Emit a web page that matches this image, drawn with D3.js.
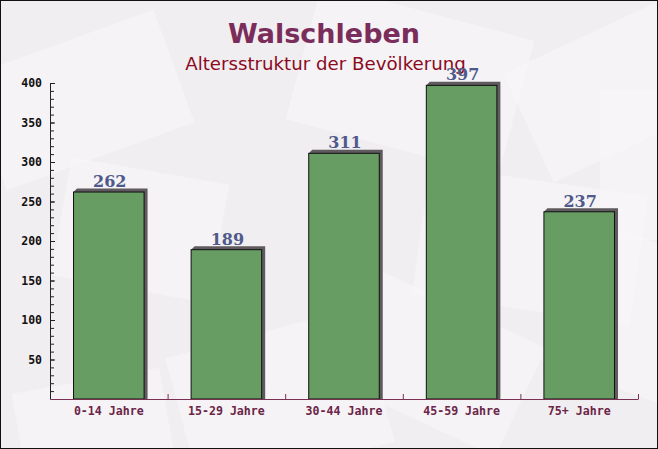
<!DOCTYPE html>
<html><head><meta charset="utf-8">
<script src="https://cdn.jsdelivr.net/npm/d3@7"></script>
<style>html,body{margin:0;padding:0;background:#fff;}svg{display:block;}</style>
</head><body>
<script>
const categories = ["0-14 Jahre","15-29 Jahre","30-44 Jahre","45-59 Jahre","75+ Jahre"];
const values = [262,189,311,397,237];
const yTicks = [50,100,150,200,250,300,350,400];
const title = "Walschleben";
const subtitle = "Altersstruktur der Bevölkerung";

const W=658,H=449;
const svg=d3.select("body").append("svg").attr("width",W).attr("height",H);
svg.append("rect").attr("x",0).attr("y",0).attr("width",W).attr("height",H).attr("fill","#f1eef1");

// decorative background envelopes
const deco=[[-20,40,200,120,-20],[300,10,220,140,15],[520,30,180,120,-25],[60,170,160,120,10],[420,180,220,130,8],[180,330,200,140,-15],[560,240,150,150,20],[20,380,150,110,-10],[330,300,200,120,25],[600,90,80,150,0]];
const dg=svg.append("g");
deco.forEach(d=>{
  dg.append("rect").attr("x",d[0]).attr("y",d[1]).attr("width",d[2]).attr("height",d[3])
    .attr("fill","#fbf9fa").attr("opacity",0.45)
    .attr("transform",`rotate(${d[4]},${d[0]+d[2]/2},${d[1]+d[3]/2})`);
});

const x=d3.scaleBand().domain(categories).range([50,638]).paddingInner(0.4).paddingOuter(0.2);
const y=d3.scaleLinear().domain([0,400]).range([399,83]);
const xb=d3.scaleLinear().domain([0,categories.length]).range([50,638]);

// title
svg.append("text").attr("x",324).attr("y",43).attr("text-anchor","middle")
  .attr("font-family","DejaVu Sans").attr("font-weight","bold").attr("font-size",27)
  .attr("fill","#7a2d5a").text(title);
svg.append("text").attr("x",325.5).attr("y",70).attr("text-anchor","middle")
  .attr("font-family","DejaVu Sans").attr("font-size",18.2)
  .attr("fill","#8b0a1e").text(subtitle);

// bars
const bars=svg.append("g");
categories.forEach((c,i)=>{
  const x0=x(c), x1=x(c)+x.bandwidth(), yt=y(values[i]), yb=y(0), o=3.5;
  bars.append("polygon")
    .attr("points",`${x0},${yt} ${x0+o},${yt-o} ${x1+o},${yt-o} ${x1+o},${yb} ${x1},${yb}`)
    .attr("fill","#5e5a5e");
  bars.append("rect").attr("x",x0).attr("y",yt).attr("width",x.bandwidth()).attr("height",yb-yt)
    .attr("fill","#679d63").attr("stroke","#111").attr("stroke-width",1);
  bars.append("text").attr("x",x0+x.bandwidth()/2+1).attr("y",yt-5).attr("text-anchor","middle")
    .attr("font-family","DejaVu Serif").attr("font-weight","bold").attr("font-size",16)
    .attr("fill","#505a8a").text(values[i]);
});

// y axis
const minor=svg.append("g").attr("transform","translate(50,0)")
  .call(d3.axisLeft(y).tickValues(d3.range(10,400,10)).tickSizeInner(-4).tickSizeOuter(0).tickFormat(""));
minor.select(".domain").remove();
minor.selectAll("line").attr("stroke","#222");
const ya=svg.append("g").attr("transform","translate(50,0)")
  .call(d3.axisLeft(y).tickValues(yTicks).tickSizeInner(-5).tickSizeOuter(0).tickPadding(8));
ya.select(".domain").attr("stroke","#222");
ya.selectAll("line").attr("stroke","#222");
ya.selectAll("text").attr("font-family","DejaVu Sans Mono").attr("font-weight","bold").attr("font-size",11.5).attr("fill","#111");

// x axis
const xt=svg.append("g").attr("transform","translate(0,399)")
  .call(d3.axisBottom(xb).tickValues(d3.range(1,categories.length+1)).tickSizeInner(-5).tickSizeOuter(0).tickFormat(""));
xt.select(".domain").attr("stroke","#7a3050");
xt.selectAll("line").attr("stroke","#7a3050");
const xa=svg.append("g").attr("transform","translate(0,399)")
  .call(d3.axisBottom(x).tickSize(0).tickPadding(8));
xa.select(".domain").remove();
xa.selectAll("text").attr("font-family","DejaVu Sans Mono").attr("font-weight","bold").attr("font-size",11.6).attr("fill","#6b2447");

// border
svg.append("rect").attr("x",0.5).attr("y",0.5).attr("width",W-1).attr("height",H-1).attr("fill","none").attr("stroke","#111");
</script>
</body></html>
